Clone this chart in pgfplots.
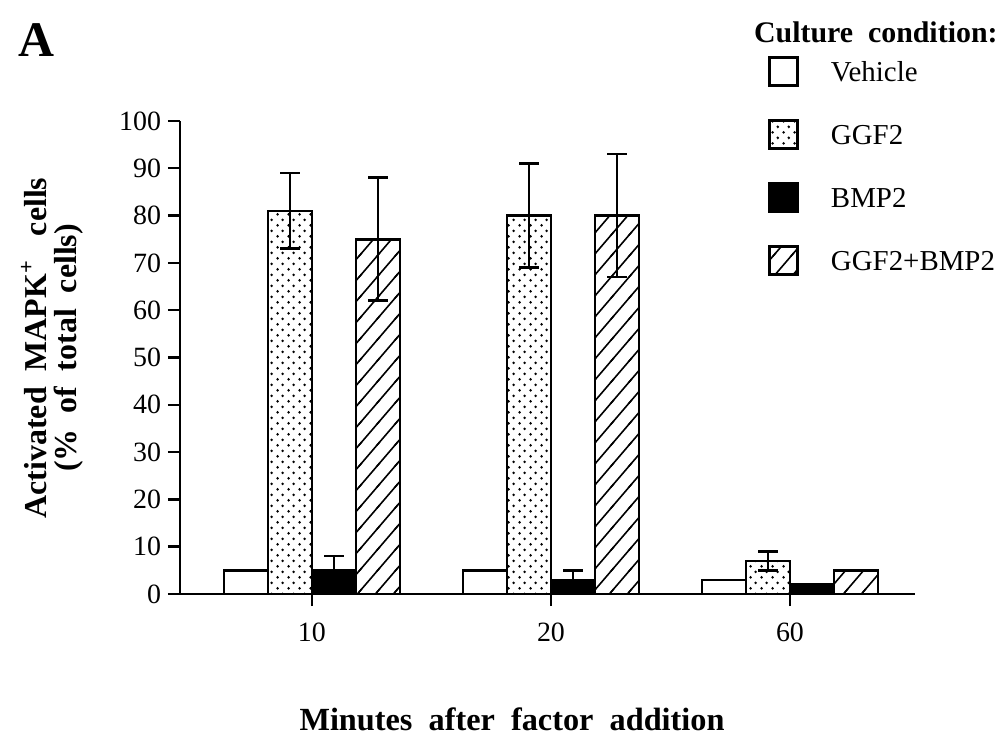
\documentclass[border=0pt]{standalone}
\usepackage{fontspec}
\setmainfont{Liberation Serif}
\usepackage{pgfplots}
\pgfplotsset{compat=1.18}
\usepackage{pgfplotstable}
\usetikzlibrary{patterns.meta}

\tikzdeclarepattern{name=mydots, type=uncolored,
  bottom left={(0bp,0bp)}, top right={(5.5bp,5.7bp)}, tile size={(5.5bp,5.7bp)},
  code={\fill (1.4bp,1.4bp) circle (0.75bp); \fill (4.15bp,4.25bp) circle (0.75bp);}}
\tikzdeclarepattern{name=myhatch, type=uncolored,
  bottom left={(-1bp,-1bp)}, top right={(10bp,11.5bp)}, tile size={(9bp,10.5bp)},
  code={\draw[line width=0.8bp] (-0.9bp,-1.05bp) -- (9.9bp,11.55bp);}}

\pgfplotstableread{
x veh ggf gerr bmp berr combo cerr
0 5 81 8 5 3 75 13
1 5 80 11 3 2 80 13
2 3 7 2 2 0 5 0
}\datatab

\begin{document}
\begin{tikzpicture}
\path (-90bp,-72bp) rectangle (411bp,297bp);
\begin{axis}[
  at={(0,0)}, anchor=south west,
  scale only axis, width=367.5bp, height=236.5bp,
  xmin=-0.552, xmax=2.523, ymin=0, ymax=100,
  axis lines=left, axis line style={line width=1.3bp, -},
  ybar=0pt, bar width=22bp,
  xtick={0,1,2}, xticklabels={10,20,60},
  ytick={0,10,...,100},
  tick style={line width=1.2bp, black},
  tick align=outside,
  major tick length=6bp,
  ticklabel style={font=\fontsize{14}{15}\selectfont},
  /pgf/number format/assume math mode=true,
  xticklabel style={yshift=-5bp},
  clip=false,
  every axis plot/.append style={line width=1.3bp, draw=black},
  legend style={draw=none, fill=none, at={(291bp,271bp)}, anchor=north west,
     font=\fontsize{14.5}{15}\selectfont, row sep=15.8bp,
     nodes={inner sep=0pt, text height=11bp, text depth=3bp}},
  legend cell align=left,
  legend image code/.code={\draw[#1, line width=1.3bp] (0bp,-6bp) rectangle (14bp,8bp);},
  error bars/y dir=both, error bars/y explicit,
  error bars/error bar style={line width=1.3bp, black},
  error bars/error mark options={rotate=90, mark size=4.9bp, line width=1.3bp, black},
]
\addplot[fill=white] table[x=x, y=veh] {\datatab};
\addlegendentry{\hspace{16bp}Vehicle}
\addplot[pattern={mydots}, pattern color=black] table[x=x, y=ggf, y error=gerr] {\datatab};
\addlegendentry{\hspace{16bp}GGF2}
\addplot[fill=black] table[x=x, y=bmp, y error=berr] {\datatab};
\addlegendentry{\hspace{16bp}BMP2}
\addplot[pattern={myhatch}, pattern color=black] table[x=x, y=combo, y error=cerr] {\datatab};
\addlegendentry{\hspace{16bp}GGF2+BMP2}
\end{axis}
\node[font=\bfseries\fontsize{25}{26}\selectfont] at (-72bp,277bp) {A};
\node[font=\bfseries\fontsize{15}{16}\selectfont, anchor=east, inner sep=0pt] at (409bp,281bp) {Culture\ \ condition:};
\node[font=\bfseries\fontsize{16}{15}\selectfont, rotate=90, align=center] at (-64bp,123bp)
  {Activated\hspace{8bp}MAPK\textsuperscript{+}\hspace{12bp}cells\\(\%\ \ of\ \ total\ \ cells)};
\node[font=\bfseries\fontsize{16.2}{18}\selectfont] at (166bp,-62.5bp) {Minutes\ \ after\ \ factor\ \ addition};
\end{tikzpicture}
\end{document}
